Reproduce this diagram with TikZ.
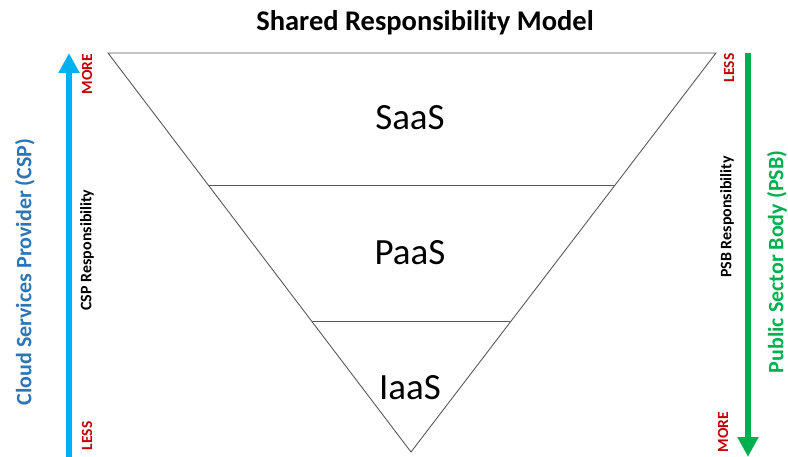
\documentclass[tikz,border=0pt]{standalone}
\usepackage{fontspec}
\setmainfont{Carlito}
\usetikzlibrary{calc,arrows.meta,positioning}
\definecolor{cspblue}{RGB}{0,176,240}
\definecolor{csptext}{RGB}{46,117,182}
\definecolor{psbgreen}{RGB}{0,176,80}
\definecolor{levelred}{RGB}{192,0,0}
\tikzset{
    tier line/.style={draw=black!65,line width=0.9pt},
    tier label/.style={font=\fontsize{37}{42}\selectfont},
    side label/.style={rotate=90,font=\bfseries\fontsize{16}{19}\selectfont},
    level label/.style={rotate=90,text=levelred,font=\bfseries\fontsize{15.5}{18}\selectfont},
    party label/.style={rotate=90,font=\bfseries\fontsize{22}{26}\selectfont},
    scale arrow/.style={line width=6pt,-{Triangle[width=20pt,length=20pt]}}
}
\begin{document}
\begin{tikzpicture}[x=1pt,y=-1pt]
\useasboundingbox (0,0) rectangle (788,457);
\node[font=\bfseries\fontsize{28.5}{32}\selectfont] (title) at (425,23) {Shared Responsibility Model};

% inverted triangle split into three tiers
\coordinate (tl) at (108,53);
\coordinate (tr) at (716,53);
\coordinate (apex) at (411,452);
\draw[tier line] (tl) -- (tr) -- (apex) -- cycle;
\foreach \f/\n in {0.333/a,0.674/b}
    \draw[tier line] ($(tl)!\f!(apex)$) coordinate (cut_\n) -- ($(tr)!\f!(apex)$);
\foreach \y/\name in {118/SaaS,253/PaaS,388/IaaS}
    \node[tier label] (tier_\name) at (410,\y) {\name};

% CSP side
\coordinate (csp_low) at (69,457);
\coordinate (csp_high) at (69,53);
\draw[scale arrow,cspblue] (csp_low) -- (csp_high);
\node[party label,text=csptext] (csp) at (25,272) {Cloud Services Provider (CSP)};
\node[side label] (csp_resp) at (87,250) {CSP Responsibility};
\node[level label] (csp_more) at (87,74) {MORE};
\node[level label] (csp_less) at (87,436) {LESS};

% PSB side
\coordinate (psb_low) at (748,53);
\coordinate (psb_high) at (748,457);
\draw[scale arrow,psbgreen] (psb_low) -- (psb_high);
\node[party label,text=psbgreen] (psb) at (777,262) {Public Sector Body (PSB)};
\node[side label] (psb_resp) at (727,217) {PSB Responsibility};
\node[level label] (psb_less) at (729,68) {LESS};
\node[level label] (psb_more) at (723,432) {MORE};
\end{tikzpicture}
\end{document}
